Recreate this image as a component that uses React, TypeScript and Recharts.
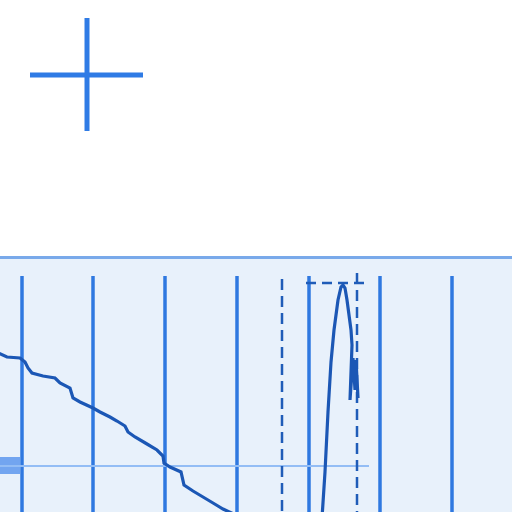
import React from "react";
import {
  LineChart,
  Line,
  XAxis,
  YAxis,
  ReferenceLine,
  ReferenceArea,
} from "recharts";

// values (x: 0..512, y: 0..512 upward)
const declineSeries = [
  { x: -4, y: 160 }, { x: 7, y: 155 }, { x: 20, y: 154 }, { x: 25, y: 150 },
  { x: 28, y: 144 }, { x: 32, y: 139 }, { x: 43, y: 136 }, { x: 55, y: 134 },
  { x: 60, y: 129 }, { x: 70, y: 124 }, { x: 73, y: 114 }, { x: 80, y: 110 },
  { x: 93, y: 104 }, { x: 100, y: 100 }, { x: 110, y: 95 }, { x: 117, y: 91 },
  { x: 125, y: 86 }, { x: 128, y: 80 }, { x: 135, y: 75 }, { x: 147, y: 68 },
  { x: 157, y: 62 }, { x: 163, y: 56 }, { x: 164, y: 49 }, { x: 170, y: 45 },
  { x: 181, y: 40 }, { x: 184, y: 27 }, { x: 193, y: 21 }, { x: 203, y: 15 },
  { x: 213, y: 9 }, { x: 223, y: 3 }, { x: 238, y: -4 },
];

const spikeSeries = [
  { x: 322, y: -6 }, { x: 325, y: 40 }, { x: 328, y: 100 }, { x: 331, y: 150 },
  { x: 334, y: 182 }, { x: 338, y: 212 }, { x: 341, y: 225 }, { x: 343, y: 227 },
  { x: 345, y: 224 }, { x: 347, y: 212 }, { x: 351, y: 182 }, { x: 352, y: 167 },
  { x: 350, y: 112 }, { x: 353, y: 154 }, { x: 355, y: 122 }, { x: 356, y: 152 },
  { x: 358, y: 114 },
];

const gridX = [22, 93, 165, 237, 309, 380, 452];
const gridTop = 236;
const markerX = [282, 357];
const markerTop = [233, 239];
const capY = 229;
const capRange = [306, 369];
const baselineY = 46;
const baselineEnd = 369;
const handle = { x1: 0, x2: 20, y1: 38, y2: 55 };
const panelTop = 256;
const cross = { x: 87, y: 437, left: 30, right: 143, top: 494, bottom: 381 };

export default function App() {
  return (
    <div style={{ position: "absolute", left: 0, top: 0, width: 512, height: 512, background: "#fff" }}>
      <LineChart width={512} height={512} margin={{ top: 0, right: 0, bottom: 0, left: 0 }}>
        <XAxis type="number" dataKey="x" domain={[0, 512]} hide allowDataOverflow />
        <YAxis type="number" dataKey="y" domain={[0, 512]} hide allowDataOverflow />

        <ReferenceArea x1={0} x2={512} y1={0} y2={panelTop} fill="#E8F1FB" fillOpacity={1} stroke="none" ifOverflow="visible" />
        <ReferenceLine y={panelTop - 1.5} stroke="#79A9EA" strokeWidth={3} ifOverflow="visible" />

        {gridX.map((x) => (
          <ReferenceLine
            key={x}
            segment={[{ x, y: gridTop }, { x, y: 0 }]}
            stroke="#2F78E0"
            strokeWidth={3.5}
            ifOverflow="visible"
          />
        ))}

        <ReferenceLine
          segment={[{ x: 0, y: baselineY }, { x: baselineEnd, y: baselineY }]}
          stroke="#93BDF5"
          strokeWidth={2}
          ifOverflow="visible"
        />
        <ReferenceArea {...handle} fill="#72A5F0" fillOpacity={1} stroke="none" ifOverflow="visible" />

        {markerX.map((x, i) => (
          <ReferenceLine
            key={"m" + x}
            segment={[{ x, y: markerTop[i] }, { x, y: 0 }]}
            stroke="#1F5CB8"
            strokeWidth={2.5}
            strokeDasharray="11 6"
            ifOverflow="visible"
          />
        ))}
        <ReferenceLine
          segment={[{ x: capRange[0], y: capY }, { x: capRange[1], y: capY }]}
          stroke="#1F5CB8"
          strokeWidth={2.5}
          strokeDasharray="10 6"
          ifOverflow="visible"
        />

        <ReferenceLine
          segment={[{ x: cross.left, y: cross.y }, { x: cross.right, y: cross.y }]}
          stroke="#2F7BE5"
          strokeWidth={5}
          ifOverflow="visible"
        />
        <ReferenceLine
          segment={[{ x: cross.x, y: cross.top }, { x: cross.x, y: cross.bottom }]}
          stroke="#2F7BE5"
          strokeWidth={5}
          ifOverflow="visible"
        />

        <Line data={declineSeries} dataKey="y" type="linear" stroke="#1B57B5" strokeWidth={3.2} dot={false} activeDot={false} isAnimationActive={false} />
        <Line data={spikeSeries} dataKey="y" type="linear" stroke="#1B57B5" strokeWidth={3.2} dot={false} activeDot={false} isAnimationActive={false} />
      </LineChart>
    </div>
  );
}
